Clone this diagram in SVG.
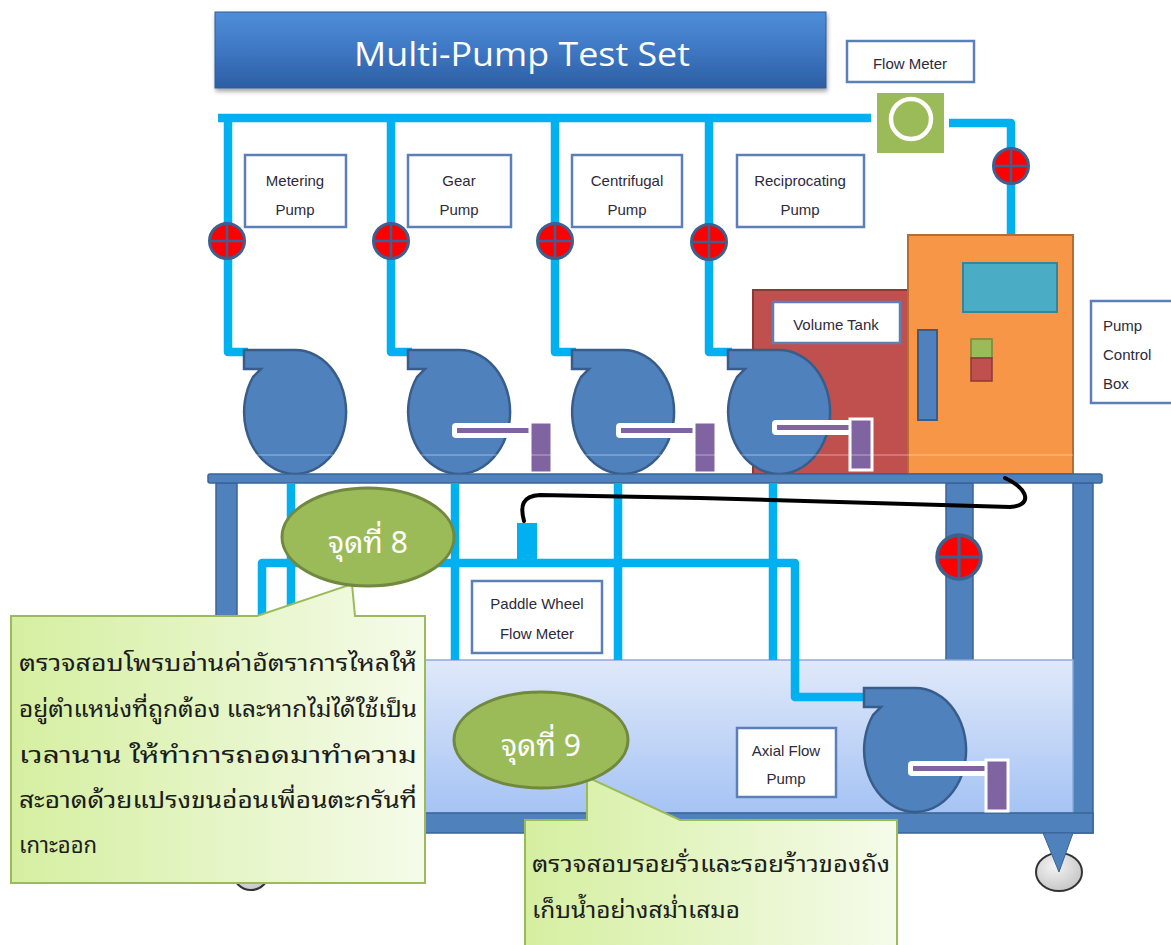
<svg xmlns="http://www.w3.org/2000/svg" xmlns:xlink="http://www.w3.org/1999/xlink" width="1171" height="945" viewBox="0 0 1171 945">
  <defs>
    <style>
      .pipe{fill:none;stroke:#00b0f0;stroke-width:8.5;stroke-linejoin:round}
      .lbl{fill:#fff;stroke:#5b7fb6;stroke-width:2.5}
      .lt{font-family:"Liberation Sans",Arial,sans-serif;font-size:15px;fill:#2d2a3a;text-anchor:middle}
      .ls{font-family:"Liberation Sans",Arial,sans-serif;font-size:15px;fill:#2d2a3a;text-anchor:start}
      .pump{fill:#4f81bd;stroke:#385d8a;stroke-width:2.5}
      .steel{fill:#4f81bd;stroke:#3a6497;stroke-width:1.5}
      .shaft{fill:#fff}
      .rod{fill:#8064a2}
      .motor{fill:#8064a2;stroke:#fff;stroke-width:3}
      .th{font-family:"Noto Sans Thai Looped","Noto Serif Thai","Noto Sans Thai","Noto Sans","DejaVu Sans",sans-serif;font-size:22px;fill:#1c1c1c}
      .spot{fill:#9bbb59;stroke:#71893f;stroke-width:3}
      .spott{font-family:"Noto Sans Thai Looped","Noto Sans Thai","Noto Sans","DejaVu Sans",sans-serif;font-size:30px;fill:#fff;text-anchor:middle}
      .note{stroke:#9bbb59;stroke-width:2}
    </style>
    <linearGradient id="titleGrad" x1="0" y1="0" x2="0" y2="1">
      <stop offset="0" stop-color="#4f8ed9"/>
      <stop offset="0.5" stop-color="#3e77c3"/>
      <stop offset="1" stop-color="#2c5ea3"/>
    </linearGradient>
    <linearGradient id="tankGrad" x1="0" y1="0" x2="0" y2="1">
      <stop offset="0" stop-color="#e0e9fa"/>
      <stop offset="1" stop-color="#a5c3f4"/>
    </linearGradient>
    <linearGradient id="noteGrad" x1="0" y1="0" x2="1" y2="0">
      <stop offset="0" stop-color="#d5efa0"/>
      <stop offset="1" stop-color="#f5fbea"/>
    </linearGradient>
    <radialGradient id="wheelGrad" cx="0.4" cy="0.35" r="0.7">
      <stop offset="0" stop-color="#f4f4f4"/>
      <stop offset="1" stop-color="#c4c4c4"/>
    </radialGradient>
    <filter id="shadow" x="-5%" y="-20%" width="110%" height="150%">
      <feDropShadow dx="1" dy="3" stdDeviation="2" flood-color="#000" flood-opacity="0.35"/>
    </filter>
    <g id="valve">
      <circle r="17.5" fill="#ff0000" stroke="#3f5f8f" stroke-width="3"/>
      <path d="M-17 0H17M0-17V17" stroke="#3f5f8f" stroke-width="2.5"/>
    </g>
    <!-- volute casing, origin at the outlet's top-left corner -->
    <path id="volute" d="M0,0 H51 A51,62 0 1 1 9,27 L17,19 L0,19 Z"/>
    <!-- shaft and motor, origin at the volute origin -->
    <g id="drive">
      <rect class="shaft" x="44" y="73" width="80" height="15" rx="4"/>
      <rect class="rod" x="49" y="78" width="73" height="5"/>
      <rect class="motor" x="122" y="72" width="22" height="51"/>
    </g>
  </defs>

  <!-- title banner -->
  <g id="title">
    <rect x="215" y="12" width="611" height="76" fill="url(#titleGrad)" stroke="#2f5c97" stroke-width="1" filter="url(#shadow)"/>
    <text x="522" y="66" font-family="'Open Sans','Liberation Sans',sans-serif" font-size="32" fill="#fff" text-anchor="middle" textLength="336" lengthAdjust="spacingAndGlyphs">Multi-Pump Test Set</text>
  </g>

  <!-- piping and cable -->
  <g id="connectors">
    <!-- discharge header -->
    <path class="pipe" d="M218 118H871"/>
    <path class="pipe" d="M949 123H1011V235"/>
    <!-- pump branches -->
    <path class="pipe" d="M228 118V352H248"/>
    <path class="pipe" d="M391 118V352H412"/>
    <path class="pipe" d="M555 118V352H576"/>
    <path class="pipe" d="M709 118V352H732"/>
  </g>

  <g id="flow-meter">
    <rect class="lbl" x="847" y="41" width="127" height="41"/>
    <text class="lt" x="910" y="69" font-size="14">Flow  Meter</text>
    <rect x="877" y="93" width="67" height="60" fill="#9bbb59"/>
    <circle cx="911" cy="119" r="20" fill="none" stroke="#fff" stroke-width="4.5"/>
  </g>

  <g id="label-metering">
    <rect class="lbl" x="245" y="155" width="101" height="72"/>
    <text class="lt" x="295" y="186">Metering</text>
    <text class="lt" x="295" y="215">Pump</text>
  </g>
  <g id="label-gear">
    <rect class="lbl" x="408" y="155" width="103" height="72"/>
    <text class="lt" x="459" y="186">Gear</text>
    <text class="lt" x="459" y="215">Pump</text>
  </g>
  <g id="label-centrifugal">
    <rect class="lbl" x="572" y="155" width="110" height="72"/>
    <text class="lt" x="627" y="186">Centrifugal</text>
    <text class="lt" x="627" y="215">Pump</text>
  </g>
  <g id="label-reciprocating">
    <rect class="lbl" x="737" y="155" width="127" height="72"/>
    <text class="lt" x="800" y="186">Reciprocating</text>
    <text class="lt" x="800" y="215">Pump</text>
  </g>

  <g id="valves">
    <use xlink:href="#valve" href="#valve" x="227" y="241"/>
    <use xlink:href="#valve" href="#valve" x="391" y="241"/>
    <use xlink:href="#valve" href="#valve" x="555" y="241"/>
    <use xlink:href="#valve" href="#valve" x="709" y="242"/>
    <use xlink:href="#valve" href="#valve" x="1011" y="166"/>
  </g>

  <g id="volume-tank">
    <rect x="753" y="290" width="160" height="184" fill="#c0504d" stroke="#8c3836" stroke-width="2"/>
    <rect class="lbl" x="773" y="302" width="127" height="41"/>
    <text class="lt" x="836" y="330">Volume Tank</text>
  </g>

  <g id="control-box">
    <rect x="908" y="235" width="165" height="239" fill="#f79646" stroke="#b66d31" stroke-width="2"/>
    <rect x="963" y="263" width="94" height="49" fill="#4bacc6" stroke="#31859c" stroke-width="2"/>
    <rect x="918" y="330" width="19" height="90" fill="#4f81bd" stroke="#385d8a" stroke-width="2"/>
    <rect x="971" y="339" width="21" height="19" fill="#9bbb59" stroke="#71893f" stroke-width="1.5"/>
    <rect x="971" y="358" width="21" height="23" fill="#c0504d" stroke="#8c3836" stroke-width="1.5"/>
  </g>
  <g id="label-control-box">
    <rect class="lbl" x="1091" y="301" width="90" height="102"/>
    <text class="ls" x="1103" y="331">Pump</text>
    <text class="ls" x="1103" y="360">Control</text>
    <text class="ls" x="1103" y="389">Box</text>
  </g>

  <g id="pump-metering">
    <use xlink:href="#volute" href="#volute" class="pump" x="244" y="350"/>
  </g>
  <g id="pump-gear">
    <use xlink:href="#volute" href="#volute" class="pump" x="408" y="350"/>
    <use xlink:href="#drive" href="#drive" x="408" y="350"/>
  </g>
  <g id="pump-centrifugal">
    <use xlink:href="#volute" href="#volute" class="pump" x="572" y="350"/>
    <use xlink:href="#drive" href="#drive" x="572" y="350"/>
  </g>
  <g id="pump-reciprocating">
    <use xlink:href="#volute" href="#volute" class="pump" x="728" y="350"/>
    <use xlink:href="#drive" href="#drive" x="728" y="347"/>
  </g>
  <line x1="240" y1="455" x2="1073" y2="455" stroke="#fff" stroke-opacity="0.45" stroke-width="1.2"/>

  <!-- cart frame -->
  <g id="cart">
    <rect class="steel" x="216" y="483" width="21" height="350"/>
    <rect class="steel" x="1073" y="483" width="20" height="350"/>
    <rect class="steel" x="946" y="483" width="27" height="177"/>
    <rect class="steel" x="208" y="474" width="894" height="9" rx="2"/>
  </g>

  <g id="water-tank">
    <rect x="237" y="660" width="836" height="153" fill="url(#tankGrad)" stroke="#8eaadb" stroke-width="1.5"/>
    <rect class="steel" x="216" y="813" width="877" height="20"/>
  </g>

  <g id="wheels">
    <ellipse cx="251" cy="872" rx="18" ry="18" fill="url(#wheelGrad)" stroke="#333" stroke-width="2"/>
    <path d="M236 833H266L251 872Z" fill="#4f81bd" stroke="#3a6497" stroke-width="1"/>
    <ellipse cx="1059" cy="872" rx="23" ry="19" fill="url(#wheelGrad)" stroke="#333" stroke-width="2"/>
    <path d="M1043 833H1073L1059 872Z" fill="#4f81bd" stroke="#3a6497" stroke-width="1"/>
  </g>

  <!-- return piping under the table -->
  <g id="return-piping">
    <path class="pipe" d="M291 483V660"/>
    <path class="pipe" d="M455 483V660"/>
    <path class="pipe" d="M618 483V660"/>
    <path class="pipe" d="M773 483V660"/>
    <path class="pipe" d="M262 660V563H795V697H866"/>
    <rect x="517" y="523" width="20" height="40" fill="#00b0f0"/>
    <path d="M524 521C520 506 522 496 540 495L700 498L1010 507C1032 506 1030 490 1005 478" fill="none" stroke="#000" stroke-width="4" stroke-linecap="round"/>
  </g>
  <g id="valve-drain">
    <use xlink:href="#valve" href="#valve" transform="translate(959 557) scale(1.25)"/>
  </g>

  <g id="paddle-wheel-meter">
    <rect class="lbl" x="472" y="581" width="130" height="72" stroke-width="3"/>
    <text class="lt" x="537" y="609">Paddle Wheel</text>
    <text class="lt" x="537" y="639">Flow  Meter</text>
  </g>

  <g id="label-axial">
    <rect class="lbl" x="737" y="728" width="99" height="69"/>
    <text class="lt" x="786" y="756">Axial Flow</text>
    <text class="lt" x="786" y="784">Pump</text>
  </g>
  <g id="pump-axial">
    <use xlink:href="#volute" href="#volute" class="pump" x="864" y="688"/>
    <use xlink:href="#drive" href="#drive" x="864" y="688"/>
  </g>

  <!-- inspection notes -->
  <g id="note-8">
    <path class="note" d="M11 616H257L352 584L355 616H425V883H11Z" fill="url(#noteGrad)"/>
    <text class="th" x="19" y="671" textLength="398" lengthAdjust="spacingAndGlyphs">ตรวจสอบโพรบอ่านค่าอัตราการไหลให้</text>
    <text class="th" x="19" y="717" textLength="398" lengthAdjust="spacingAndGlyphs">อยู่ตำแหน่งที่ถูกต้อง และหากไม่ได้ใช้เป็น</text>
    <text class="th" x="19" y="763" textLength="398" lengthAdjust="spacingAndGlyphs">เวลานาน ให้ทำการถอดมาทำความ</text>
    <text class="th" x="19" y="808" textLength="398" lengthAdjust="spacingAndGlyphs">สะอาดด้วยแปรงขนอ่อนเพื่อนตะกรันที่</text>
    <text class="th" x="19" y="853">เกาะออก</text>
    <ellipse class="spot" cx="368" cy="537" rx="86" ry="49"/>
    <text class="spott" x="368" y="553">จุดที่ 8</text>
  </g>

  <g id="note-9">
    <path class="note" d="M525 820H587V777L680 820H897V950H525Z" fill="url(#noteGrad)"/>
    <text class="th" x="532" y="872" textLength="358" lengthAdjust="spacingAndGlyphs">ตรวจสอบรอยรั่วและรอยร้าวของถัง</text>
    <text class="th" x="532" y="918" textLength="208" lengthAdjust="spacingAndGlyphs">เก็บน้ำอย่างสม่ำเสมอ</text>
    <ellipse class="spot" cx="541" cy="740" rx="87" ry="48"/>
    <text class="spott" x="541" y="756">จุดที่ 9</text>
  </g>
</svg>
